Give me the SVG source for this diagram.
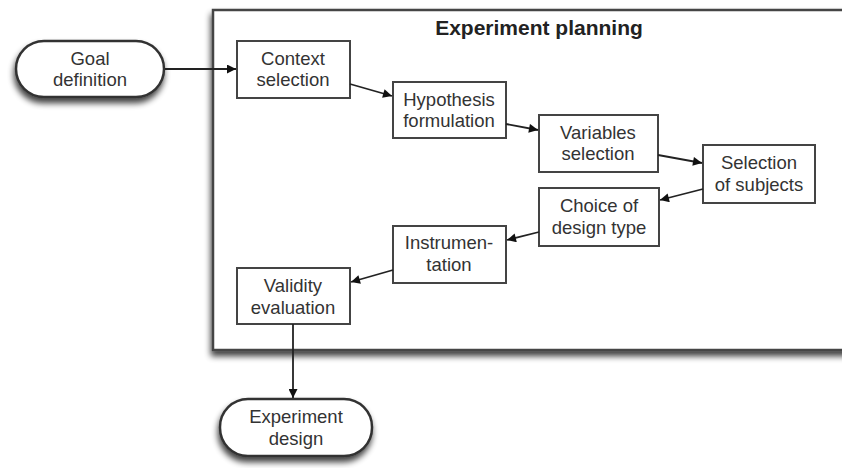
<svg xmlns="http://www.w3.org/2000/svg" width="842" height="468" viewBox="0 0 842 468">
<defs>
<filter id="shadow" x="-10%" y="-20%" width="120%" height="150%">
<feGaussianBlur in="SourceAlpha" stdDeviation="3"/>
<feOffset dx="-1" dy="5" result="b"/>
<feComponentTransfer><feFuncA type="linear" slope="0.75"/></feComponentTransfer>
<feMerge><feMergeNode/><feMergeNode in="SourceGraphic"/></feMerge>
</filter>
<marker id="arr" viewBox="0 0 10 10" refX="10" refY="5" markerWidth="14" markerHeight="9" markerUnits="userSpaceOnUse" orient="auto">
<path d="M0,0 L10,5 L0,10 z" fill="#111"/>
</marker>
</defs>
<style>
.box{fill:#fff;stroke:#444;stroke-width:2}
.pill{fill:#fff;stroke:#333;stroke-width:2.5}
.t{font-family:"Liberation Sans",Arial,sans-serif;font-size:18.5px;fill:#333;text-anchor:middle}
.title{font-family:"Liberation Sans",Arial,sans-serif;font-size:21px;font-weight:bold;fill:#222;text-anchor:middle}
.c{stroke:#222;stroke-width:1.8;fill:none;marker-end:url(#arr)}
</style>
<rect width="842" height="468" fill="#fff"/>
<g id="frame">
<rect x="213" y="10" width="640" height="340" fill="#fff" stroke="#444" stroke-width="2.5" filter="url(#shadow)"/>
<text class="title" x="539" y="35">Experiment planning</text>
</g>
<g id="goal">
<rect class="pill" x="16" y="41" width="148" height="56" rx="28" filter="url(#shadow)"/>
<text class="t" x="90" y="65">Goal</text>
<text class="t" x="90" y="86">definition</text>
</g>
<g id="context">
<rect class="box" x="237" y="41" width="113" height="57"/>
<text class="t" x="293" y="65">Context</text>
<text class="t" x="293" y="86">selection</text>
</g>
<g id="hypothesis">
<rect class="box" x="393" y="82" width="113" height="56"/>
<text class="t" x="449" y="106">Hypothesis</text>
<text class="t" x="449" y="127">formulation</text>
</g>
<g id="variables">
<rect class="box" x="539" y="115" width="119" height="57"/>
<text class="t" x="598" y="139">Variables</text>
<text class="t" x="598" y="160">selection</text>
</g>
<g id="subjects">
<rect class="box" x="703" y="145" width="112" height="58"/>
<text class="t" x="759" y="169">Selection</text>
<text class="t" x="759" y="191">of subjects</text>
</g>
<g id="design-type">
<rect class="box" x="539" y="188" width="120" height="58"/>
<text class="t" x="599" y="212">Choice of</text>
<text class="t" x="599" y="234">design type</text>
</g>
<g id="instrumentation">
<rect class="box" x="393" y="226" width="113" height="57"/>
<text class="t" x="449" y="249">Instrumen-</text>
<text class="t" x="449" y="271">tation</text>
</g>
<g id="validity">
<rect class="box" x="237" y="268" width="113" height="56"/>
<text class="t" x="293" y="292">Validity</text>
<text class="t" x="293" y="314">evaluation</text>
</g>
<g id="experiment-design">
<rect class="pill" x="220" y="399" width="152" height="57" rx="28" filter="url(#shadow)"/>
<text class="t" x="296" y="423">Experiment</text>
<text class="t" x="296" y="445">design</text>
</g>
<g id="connectors">
<line class="c" x1="165" y1="69" x2="236" y2="69"/>
<line class="c" x1="350" y1="84" x2="392" y2="96"/>
<line class="c" x1="506" y1="124" x2="538" y2="130"/>
<line class="c" x1="658" y1="155" x2="702" y2="163"/>
<line class="c" x1="703" y1="189" x2="660" y2="200"/>
<line class="c" x1="539" y1="232" x2="507" y2="240"/>
<line class="c" x1="393" y1="270" x2="351" y2="282"/>
<line class="c" x1="293" y1="324" x2="293" y2="398"/>
</g>
</svg>
